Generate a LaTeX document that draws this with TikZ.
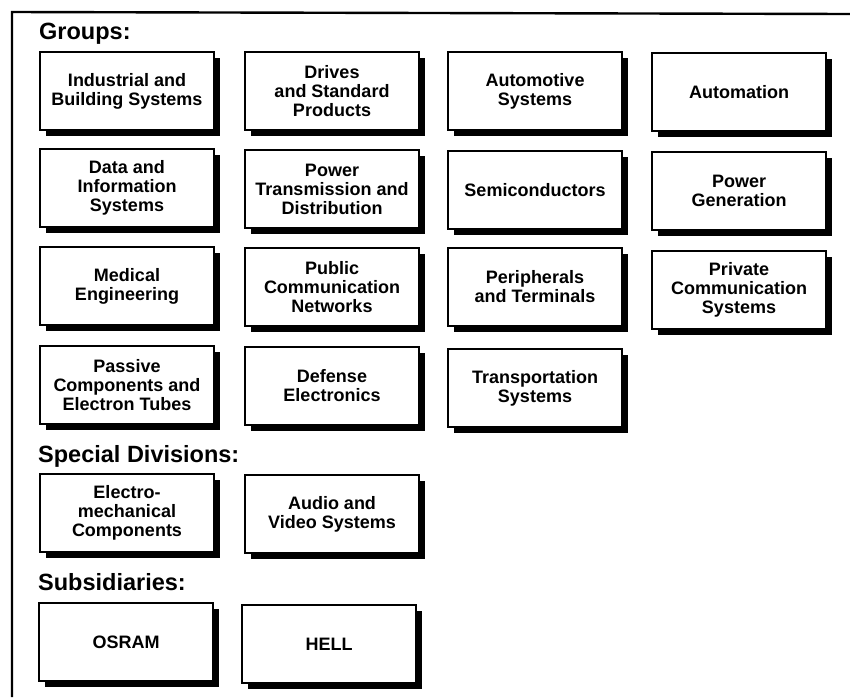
\documentclass[tikz,border=0pt]{standalone}
\usepackage{fontspec}
\setmainfont{Liberation Sans}
\usetikzlibrary{shadows}
\begin{document}
\begin{tikzpicture}[x=1pt,y=-1pt,
  unit/.style={draw, line width=1.4pt, fill=white, minimum width=174pt, minimum height=78pt,
    inner sep=2pt, align=center, font=\bfseries\fontsize{18}{19}\selectfont,
    drop shadow={shadow xshift=5.5pt, shadow yshift=-5.5pt, fill=black, opacity=1}},
  heading/.style={anchor=base west, inner sep=0pt, font=\bfseries\fontsize{23.5}{25}\selectfont}]
\useasboundingbox (0,0) rectangle (850,697);
\fill[white] (0,0) rectangle (850,697);
\draw[line width=2.4pt] (12,697) -- (12,12) -- (850,14);
% headings
\node[heading] (hg) at (39,39) {Groups:};
\node[heading] (hs) at (38,462) {Special Divisions:};
\node[heading] (hb) at (38,590) {Subsidiaries:};
% row 1
\node[unit] (ibs) at (127,91) {Industrial and\\Building Systems};
\node[unit] (dsp) at (332,91) {Drives\\and Standard\\Products};
\node[unit] (aus) at (535,91) {Automotive\\Systems};
\node[unit] (aut) at (739,92) {Automation};
% row 2
\node[unit] (dis) at (127,188) {Data and\\Information\\Systems};
\node[unit] (ptd) at (332,189) {Power\\Transmission and\\Distribution};
\node[unit] (sem) at (535,190) {Semiconductors};
\node[unit] (pge) at (739,191) {Power\\Generation};
% row 3
\node[unit] (med) at (127,286) {Medical\\Engineering};
\node[unit] (pcn) at (332,287) {Public\\Communication\\Networks};
\node[unit] (pat) at (535,287) {Peripherals\\and Terminals};
\node[unit] (pcs) at (739,290) {Private\\Communication\\Systems};
% row 4
\node[unit] (pce) at (127,385) {Passive\\Components and\\Electron Tubes};
\node[unit] (dfe) at (332,386) {Defense\\Electronics};
\node[unit] (trs) at (535,388) {Transportation\\Systems};
% special divisions
\node[unit] (emc) at (127,513) {Electro-\\mechanical\\Components};
\node[unit] (avs) at (332,514) {Audio and\\Video Systems};
% subsidiaries
\node[unit] (osr) at (126,642) {OSRAM};
\node[unit] (hel) at (329,644) {HELL};
\end{tikzpicture}
\end{document}
